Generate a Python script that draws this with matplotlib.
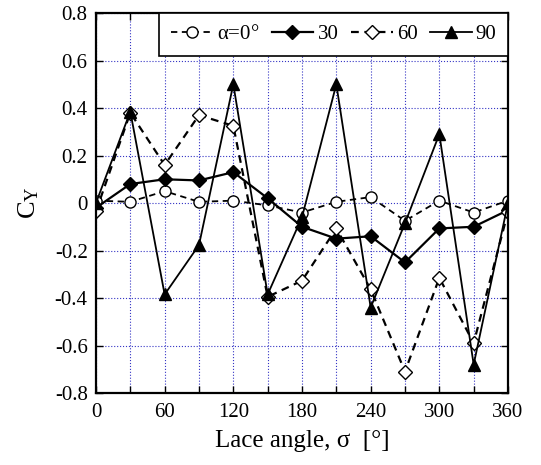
import numpy as np
import matplotlib
matplotlib.use('Agg')
import matplotlib.pyplot as plt

plt.rcParams['font.family'] = ['Liberation Serif', 'DejaVu Serif']
plt.rcParams['mathtext.fontset'] = 'custom'
plt.rcParams['mathtext.rm'] = 'Liberation Serif'
plt.rcParams['mathtext.it'] = 'Liberation Serif'

# lace angle sigma [deg]
sigma = [0, 30, 60, 90, 120, 150, 180, 210, 240, 270, 300, 330, 360]

cy_a0 = [0.01, 0.005, 0.05, 0.005, 0.01, -0.01, -0.04, 0.005, 0.025, -0.075, 0.01, -0.04, 0.01]
cy_a30 = [-0.02, 0.08, 0.10, 0.095, 0.13, 0.02, -0.10, -0.15, -0.14, -0.25, -0.107, -0.10, -0.03]
cy_a60 = [-0.035, 0.38, 0.16, 0.37, 0.325, -0.395, -0.327, -0.107, -0.363, -0.71, -0.315, -0.59, -0.037]
cy_a90 = [0.0, 0.385, -0.385, -0.177, 0.50, -0.385, -0.06, 0.50, -0.44, -0.085, 0.29, -0.68, 0.0]

fig = plt.figure(figsize=(5.41, 4.65), dpi=100)
ax = fig.add_axes([0.1774, 0.1548, 0.7616, 0.8172])

dash = (0, (3.5, 2.5))
ax.plot(sigma, cy_a0, color='k', ls=dash, marker='o', mfc='white', mec='black', ms=8, lw=1.3, label=r'$\alpha$=0°')
ax.plot(sigma, cy_a30, 'k-', marker='D', mfc='black', mec='black', ms=7, lw=1.6, label='30')
ax.plot(sigma, cy_a60, color='k', ls=dash, marker='D', mfc='white', mec='black', ms=7, lw=1.6, label='60')
ax.plot(sigma, cy_a90, 'k-', marker='^', mfc='black', mec='black', ms=9, lw=1.3, label='90')

ax.set_xlim(0, 360)
ax.set_ylim(-0.8, 0.8)
ax.set_xticks(np.arange(0, 361, 60))
ax.set_xticks(np.arange(0, 361, 30), minor=True)
ax.set_yticks(np.arange(-0.8, 0.81, 0.2))
ax.set_yticklabels(['-0.8', '-0.6', '-0.4', '-0.2', '0', '0.2', '0.4', '0.6', '0.8'])
ax.grid(True, which='both', color='#3535c5', linestyle=':', linewidth=0.8)
ax.set_axisbelow(True)
ax.tick_params(which='both', direction='in', top=True, right=True, labelsize=15, length=5, width=1)
ax.tick_params(axis='x', pad=7)
ax.tick_params(axis='y', pad=6)
for s in ax.spines.values():
    s.set_linewidth(1.6)

ax.set_xlabel('Lace angle, σ  [°]', fontsize=18, labelpad=6)
ax.set_ylabel(r'C$_{\rm Y}$', fontsize=19, labelpad=10)

leg = ax.legend(loc='upper right', ncol=4, fontsize=15, handlelength=2.0, handletextpad=0.2,
                columnspacing=0.6, frameon=True, fancybox=False, borderaxespad=0.0,
                borderpad=0.55, framealpha=1, edgecolor='black')
leg.get_frame().set_linewidth(1.2)

fig.savefig('out.png', dpi=100)
